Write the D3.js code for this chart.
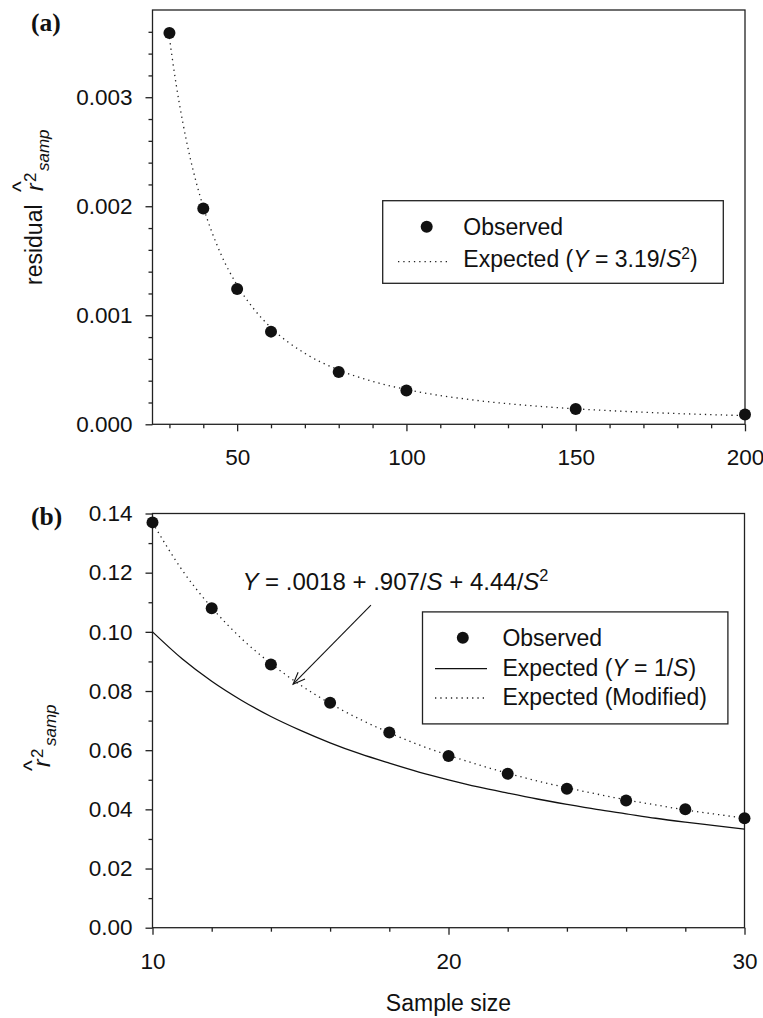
<!DOCTYPE html>
<html>
<head>
<meta charset="utf-8">
<script src="https://cdn.jsdelivr.net/npm/d3@7"></script>
<style>
  html, body { margin: 0; padding: 0; background: #fff; }
  svg { display: block; }
  text { font-family: "Liberation Sans", Arial, Helvetica, sans-serif; fill: #111; }
</style>
</head>
<body>
<svg id="chart" width="763" height="1018"></svg>
<script>
// ---------- Panel (a) data ----------
const sizesA = [30, 40, 50, 60, 80, 100, 150, 200];
const observedA = [0.00359, 0.00198, 0.00124, 0.00085, 0.00048, 0.00031, 0.00014, 0.00009];
const curveSizesA = [30, 32, 34, 36, 38, 40, 45, 50, 55, 60, 70, 80, 90, 100, 120, 140, 160, 180, 200];
const expectedA = [0.003544, 0.003115, 0.002760, 0.002461, 0.002209, 0.001994, 0.001575, 0.001276,
                   0.001055, 0.000886, 0.000651, 0.000498, 0.000394, 0.000319, 0.000222, 0.000163,
                   0.000125, 0.0000985, 0.0000798];
const xTicksA = [50, 100, 150, 200];
const xMinorA = [30, 40, 60, 70, 80, 90, 110, 120, 130, 140, 160, 170, 180, 190];
const yTicksA = [0, 0.001, 0.002, 0.003];
const yMinorA = [0.0002, 0.0004, 0.0006, 0.0008, 0.0012, 0.0014, 0.0016, 0.0018, 0.0022, 0.0024,
                 0.0026, 0.0028, 0.0032, 0.0034, 0.0036];

// ---------- Panel (b) data ----------
const sizesB = [10, 12, 14, 16, 18, 20, 22, 24, 26, 28, 30];
const observedB = [0.137, 0.108, 0.089, 0.076, 0.066, 0.058, 0.052, 0.047, 0.043, 0.040, 0.037];
const curveSizesB = [10, 11, 12, 13, 14, 15, 16, 17, 18, 19, 20, 21, 22, 23, 24, 25, 26, 27, 28, 29, 30];
const expectedInvB = [0.1, 0.0909, 0.0833, 0.0769, 0.0714, 0.0667, 0.0625, 0.0588, 0.0556, 0.0526, 0.05,
                      0.0476, 0.0455, 0.0435, 0.0417, 0.04, 0.0385, 0.037, 0.0357, 0.0345, 0.0333];
const expectedModB = [0.1369, 0.1209, 0.1082, 0.0978, 0.0893, 0.0820, 0.0758, 0.0705, 0.0659, 0.0618, 0.0583,
                      0.0551, 0.0522, 0.0496, 0.0473, 0.0452, 0.0432, 0.0415, 0.0398, 0.0384, 0.0370];
const xTicksB = [10, 20, 30];
const xMinorB = [12, 14, 16, 18, 22, 24, 26, 28];
const yTicksB = [0, 0.02, 0.04, 0.06, 0.08, 0.10, 0.12, 0.14];
const yMinorB = [0.01, 0.03, 0.05, 0.07, 0.09, 0.11, 0.13];

// ---------- drawing ----------
const svg = d3.select("#chart");
const AX = "#222";
const FS_TICK = 22.5, FS_LEG = 23, FS_ANN = 24, FS_TITLE = 23;
const SERIF = "'Liberation Serif', 'Times New Roman', serif";

const xA = d3.scaleLinear().domain([25, 200]).range([152.5, 745]);
const yA = d3.scaleLinear().domain([0, 0.0038]).range([424.3, 10]);
const xB = d3.scaleLinear().domain([10, 30]).range([152.5, 744.5]);
const yB = d3.scaleLinear().domain([0, 0.14]).range([927.7, 513.5]);

function drawAxes(x, y, xMaj, xMin, yMaj, yMin, xFmt, yFmt) {
  const [x0, x1] = x.range();
  const [y0, y1] = y.range();
  const g = svg.append("g");
  g.append("g").attr("transform", `translate(0,${y0})`)
    .call(d3.axisBottom(x).tickValues(xMin).tickSize(4).tickSizeOuter(0).tickFormat(""))
    .call(s => s.select(".domain").remove());
  g.append("g").attr("transform", `translate(${x0},0)`)
    .call(d3.axisLeft(y).tickValues(yMin).tickSize(4).tickSizeOuter(0).tickFormat(""))
    .call(s => s.select(".domain").remove());
  const gx = g.append("g").attr("transform", `translate(0,${y0})`)
    .call(d3.axisBottom(x).tickValues(xMaj).tickSize(7).tickSizeOuter(0).tickPadding(18).tickFormat(xFmt));
  gx.select(".domain").remove();
  gx.selectAll("text").attr("font-size", FS_TICK).attr("font-family", null).style("fill", "#111");
  const gy = g.append("g").attr("transform", `translate(${x0},0)`)
    .call(d3.axisLeft(y).tickValues(yMaj).tickSize(7).tickSizeOuter(0).tickPadding(13).tickFormat(yFmt));
  gy.select(".domain").remove();
  gy.selectAll("text").attr("font-size", FS_TICK).attr("font-family", null).style("fill", "#111");
  g.selectAll(".tick line").attr("stroke", AX).attr("stroke-width", 1.3);
  g.append("rect").attr("x", x0).attr("y", y1).attr("width", x1 - x0).attr("height", y0 - y1)
    .attr("fill", "none").attr("stroke", AX).attr("stroke-width", 1.3);
}

function rtext(x, y, str, opts = {}) {
  return svg.append("text")
    .attr("x", x).attr("y", y)
    .attr("transform", `rotate(-90 ${x} ${y})`)
    .attr("font-size", opts.size || FS_TITLE)
    .attr("font-style", opts.italic ? "italic" : null)
    .text(str);
}

function richText(x, y, parts, size) {
  const t = svg.append("text").attr("x", x).attr("y", y).attr("font-size", size);
  let raised = false;
  parts.forEach(p => {
    const ts = t.append("tspan").text(p.t);
    if (p.italic) ts.attr("font-style", "italic");
    if (p.sup) { ts.attr("font-size", size * 0.68).attr("dy", -size * 0.38); raised = true; }
    else if (raised) { ts.attr("dy", size * 0.38); raised = false; }
  });
  return t;
}

const lineA = d3.line().x((d, i) => xA(curveSizesA[i])).y(d => yA(d)).curve(d3.curveMonotoneX);
const lineB = d3.line().x((d, i) => xB(curveSizesB[i])).y(d => yB(d)).curve(d3.curveMonotoneX);

const DOT = { stroke: "#222", width: 1.3, dash: "1.3,4" };

// ===== Panel (a) =====
drawAxes(xA, yA, xTicksA, xMinorA, yTicksA, yMinorA, d3.format("d"), d3.format(".3f"));

svg.append("path").datum(expectedA).attr("d", lineA)
  .attr("fill", "none").attr("stroke", DOT.stroke).attr("stroke-width", DOT.width)
  .attr("stroke-dasharray", DOT.dash);

svg.append("g").selectAll("circle").data(observedA).join("circle")
  .attr("cx", (d, i) => xA(sizesA[i])).attr("cy", d => yA(d)).attr("r", 6).attr("fill", "#111");

svg.append("text").attr("x", 31).attr("y", 31)
  .style("font-family", SERIF).attr("font-weight", "bold").attr("font-size", 25.5).text("(a)");

// y label (a)
rtext(42, 285, "residual");
rtext(29, 192, "^");
rtext(43, 191, "r", { italic: true });
rtext(36, 182, "2", { size: 17 });
rtext(49, 171, "samp", { italic: true, size: 17 });

// legend (a)
svg.append("rect").attr("x", 382.7).attr("y", 200.7).attr("width", 340.6).attr("height", 82.6)
  .attr("fill", "#fff").attr("stroke", AX).attr("stroke-width", 1.3);
svg.append("circle").attr("cx", 426.7).attr("cy", 226.7).attr("r", 6).attr("fill", "#111");
svg.append("line").attr("x1", 398).attr("x2", 449).attr("y1", 261.7).attr("y2", 261.7)
  .attr("stroke", DOT.stroke).attr("stroke-width", DOT.width).attr("stroke-dasharray", DOT.dash);
richText(463.3, 235, [{ t: "Observed" }], FS_LEG);
richText(463.3, 267.3, [{ t: "Expected (" }, { t: "Y", italic: true }, { t: " = 3.19/" },
  { t: "S", italic: true }, { t: "2", sup: true }, { t: ")" }], FS_LEG);

// ===== Panel (b) =====
drawAxes(xB, yB, xTicksB, xMinorB, yTicksB, yMinorB, d3.format("d"), d3.format(".2f"));

svg.append("path").datum(expectedInvB).attr("d", lineB)
  .attr("fill", "none").attr("stroke", "#111").attr("stroke-width", 1.3);
svg.append("path").datum(expectedModB).attr("d", lineB)
  .attr("fill", "none").attr("stroke", DOT.stroke).attr("stroke-width", DOT.width)
  .attr("stroke-dasharray", DOT.dash);

svg.append("g").selectAll("circle").data(observedB).join("circle")
  .attr("cx", (d, i) => xB(sizesB[i])).attr("cy", d => yB(d)).attr("r", 6).attr("fill", "#111");

svg.append("text").attr("x", 31).attr("y", 524.5)
  .style("font-family", SERIF).attr("font-weight", "bold").attr("font-size", 25.5).text("(b)");

// y label (b)
rtext(40, 771, "^");
rtext(50, 767, "r", { italic: true });
rtext(43, 758, "2", { size: 17 });
rtext(56, 746, "samp", { italic: true, size: 17 });

// annotation
richText(242.4, 590, [{ t: "Y", italic: true }, { t: " = .0018 + .907/" }, { t: "S", italic: true },
  { t: " + 4.44/" }, { t: "S", italic: true }, { t: "2", sup: true }], FS_ANN);
const tail = [xB(17.38), yB(0.109)];
const tip = [xB(14.75), yB(0.0823)];
svg.append("line").attr("x1", tail[0]).attr("y1", tail[1]).attr("x2", tip[0]).attr("y2", tip[1])
  .attr("stroke", "#111").attr("stroke-width", 1.1);
{
  const ang = Math.atan2(tail[1] - tip[1], tail[0] - tip[0]);
  const L = 13, spread = 0.38;
  const p1 = [tip[0] + L * Math.cos(ang + spread), tip[1] + L * Math.sin(ang + spread)];
  const p2 = [tip[0] + L * Math.cos(ang - spread), tip[1] + L * Math.sin(ang - spread)];
  svg.append("path").attr("d", `M${p1[0]},${p1[1]}L${tip[0]},${tip[1]}L${p2[0]},${p2[1]}`)
    .attr("fill", "none").attr("stroke", "#111").attr("stroke-width", 1.1);
}

// legend (b)
svg.append("rect").attr("x", 422.5).attr("y", 611.9).attr("width", 305.4).attr("height", 112)
  .attr("fill", "#fff").attr("stroke", AX).attr("stroke-width", 1.3);
svg.append("circle").attr("cx", 462.8).attr("cy", 637.7).attr("r", 6).attr("fill", "#111");
svg.append("line").attr("x1", 435).attr("x2", 487).attr("y1", 668.7).attr("y2", 668.7)
  .attr("stroke", "#111").attr("stroke-width", 1.3);
svg.append("line").attr("x1", 435).attr("x2", 487).attr("y1", 698).attr("y2", 698)
  .attr("stroke", DOT.stroke).attr("stroke-width", DOT.width).attr("stroke-dasharray", DOT.dash);
richText(502.4, 646, [{ t: "Observed" }], FS_LEG);
richText(502.4, 675.6, [{ t: "Expected (" }, { t: "Y", italic: true }, { t: " = 1/" },
  { t: "S", italic: true }, { t: ")" }], FS_LEG);
richText(502.4, 705, [{ t: "Expected (Modified)" }], FS_LEG);

// x axis title
svg.append("text").attr("x", 448.5).attr("y", 1011).attr("text-anchor", "middle")
  .attr("font-size", FS_TITLE).text("Sample size");
</script>
</body>
</html>
